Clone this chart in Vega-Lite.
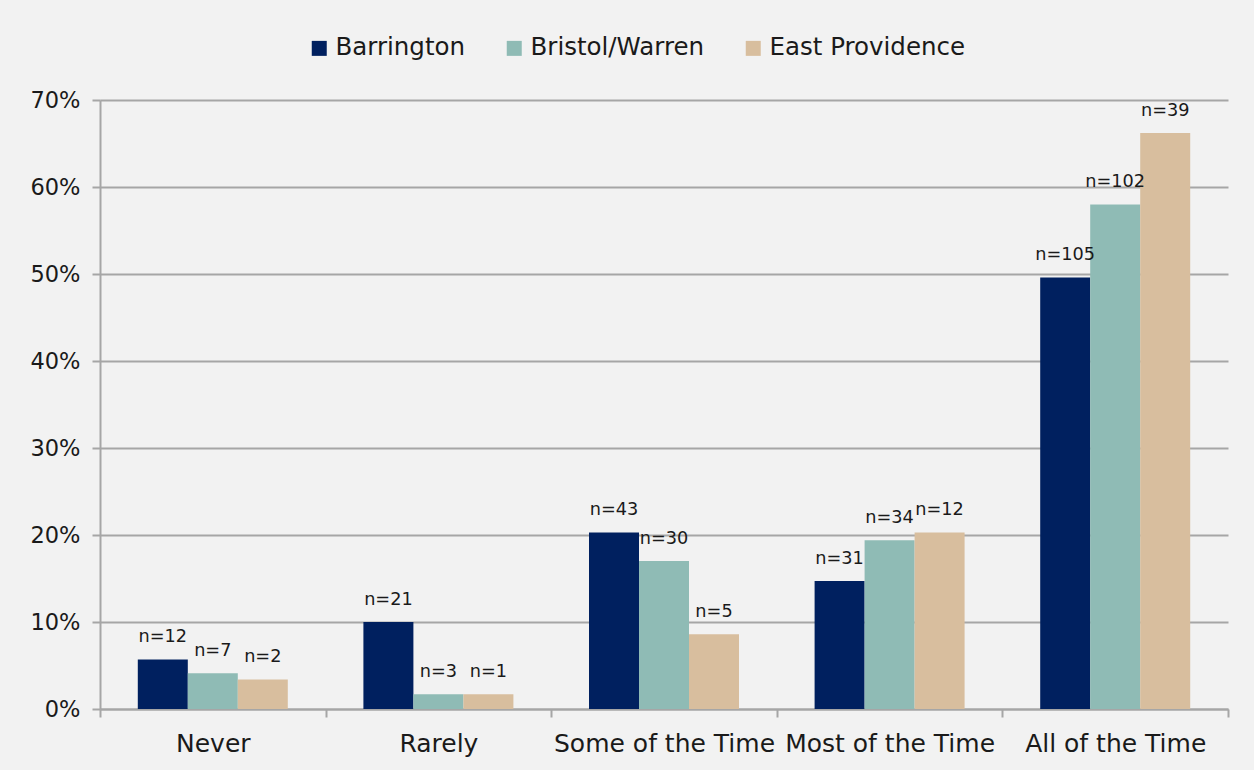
{
  "$schema": "https://vega.github.io/schema/vega-lite/v6.json",
  "autosize": {"type": "none"},
  "width": 1128,
  "height": 609,
  "padding": {"left": 100, "top": 100, "right": 26, "bottom": 61},
  "background": "#f2f2f2",
  "data": {
    "values": [
      {"category": "Never", "area": "Barrington", "pct": 0.057, "n": "n=12"},
      {"category": "Never", "area": "Bristol/Warren", "pct": 0.041, "n": "n=7"},
      {"category": "Never", "area": "East Providence", "pct": 0.034, "n": "n=2"},
      {"category": "Rarely", "area": "Barrington", "pct": 0.100, "n": "n=21"},
      {"category": "Rarely", "area": "Bristol/Warren", "pct": 0.017, "n": "n=3"},
      {"category": "Rarely", "area": "East Providence", "pct": 0.017, "n": "n=1"},
      {"category": "Some of the Time", "area": "Barrington", "pct": 0.203, "n": "n=43"},
      {"category": "Some of the Time", "area": "Bristol/Warren", "pct": 0.170, "n": "n=30"},
      {"category": "Some of the Time", "area": "East Providence", "pct": 0.086, "n": "n=5"},
      {"category": "Most of the Time", "area": "Barrington", "pct": 0.147, "n": "n=31"},
      {"category": "Most of the Time", "area": "Bristol/Warren", "pct": 0.194, "n": "n=34"},
      {"category": "Most of the Time", "area": "East Providence", "pct": 0.203, "n": "n=12"},
      {"category": "All of the Time", "area": "Barrington", "pct": 0.496, "n": "n=105"},
      {"category": "All of the Time", "area": "Bristol/Warren", "pct": 0.580, "n": "n=102"},
      {"category": "All of the Time", "area": "East Providence", "pct": 0.662, "n": "n=39"}
    ]
  },
  "encoding": {
    "x": {
      "field": "category",
      "type": "nominal",
      "sort": ["Never", "Rarely", "Some of the Time", "Most of the Time", "All of the Time"],
      "scale": {"paddingInner": 0, "paddingOuter": 0},
      "axis": {
        "title": null,
        "labelAngle": 0,
        "tickBand": "extent",
        "tickSize": 8,
        "labelPadding": 14,
        "labelFontSize": 25,
        "labelLimit": 0,
        "grid": false
      }
    },
    "xOffset": {
      "field": "area",
      "type": "nominal",
      "sort": ["Barrington", "Bristol/Warren", "East Providence"],
      "scale": {"paddingInner": 0, "paddingOuter": 0.756}
    },
    "y": {
      "field": "pct",
      "type": "quantitative",
      "scale": {"domain": [0, 0.7], "nice": false},
      "axis": {
        "title": null,
        "values": [0, 0.1, 0.2, 0.3, 0.4, 0.5, 0.6, 0.7],
        "format": ".0%",
        "tickSize": 8,
        "labelPadding": 12,
        "labelFontSize": 22.5,
        "grid": true
      }
    }
  },
  "layer": [
    {
      "mark": {"type": "bar"},
      "encoding": {
        "color": {
          "field": "area",
          "type": "nominal",
          "sort": ["Barrington", "Bristol/Warren", "East Providence"],
          "scale": {
            "domain": ["Barrington", "Bristol/Warren", "East Providence"],
            "range": ["#00205f", "#8fbbb5", "#d8be9e"]
          },
          "legend": {
            "title": null,
            "orient": "none",
            "direction": "horizontal",
            "legendX": 207,
            "legendY": -64,
            "symbolType": "square",
            "symbolSize": 225,
            "symbolStrokeWidth": 0,
            "symbolOpacity": 1,
            "labelFontSize": 24.5,
            "labelLimit": 0,
            "labelOffset": 4,
            "columnPadding": 36,
            "labelColor": "#1a1a1a"
          }
        }
      }
    },
    {
      "mark": {"type": "text", "baseline": "bottom", "dy": -13, "fontSize": 17.7, "color": "#1a1a1a"},
      "encoding": {
        "text": {"field": "n"}
      }
    }
  ],
  "config": {
    "view": {"stroke": null},
    "font": "DejaVu Sans",
    "axis": {
      "domainColor": "#a6a6a6",
      "domainWidth": 2,
      "tickColor": "#a6a6a6",
      "tickWidth": 2,
      "gridColor": "#a6a6a6",
      "gridWidth": 2,
      "labelColor": "#1a1a1a",
      "labelFont": "DejaVu Sans"
    },
    "legend": {"labelFont": "DejaVu Sans"},
    "text": {"font": "DejaVu Sans"}
  }
}
